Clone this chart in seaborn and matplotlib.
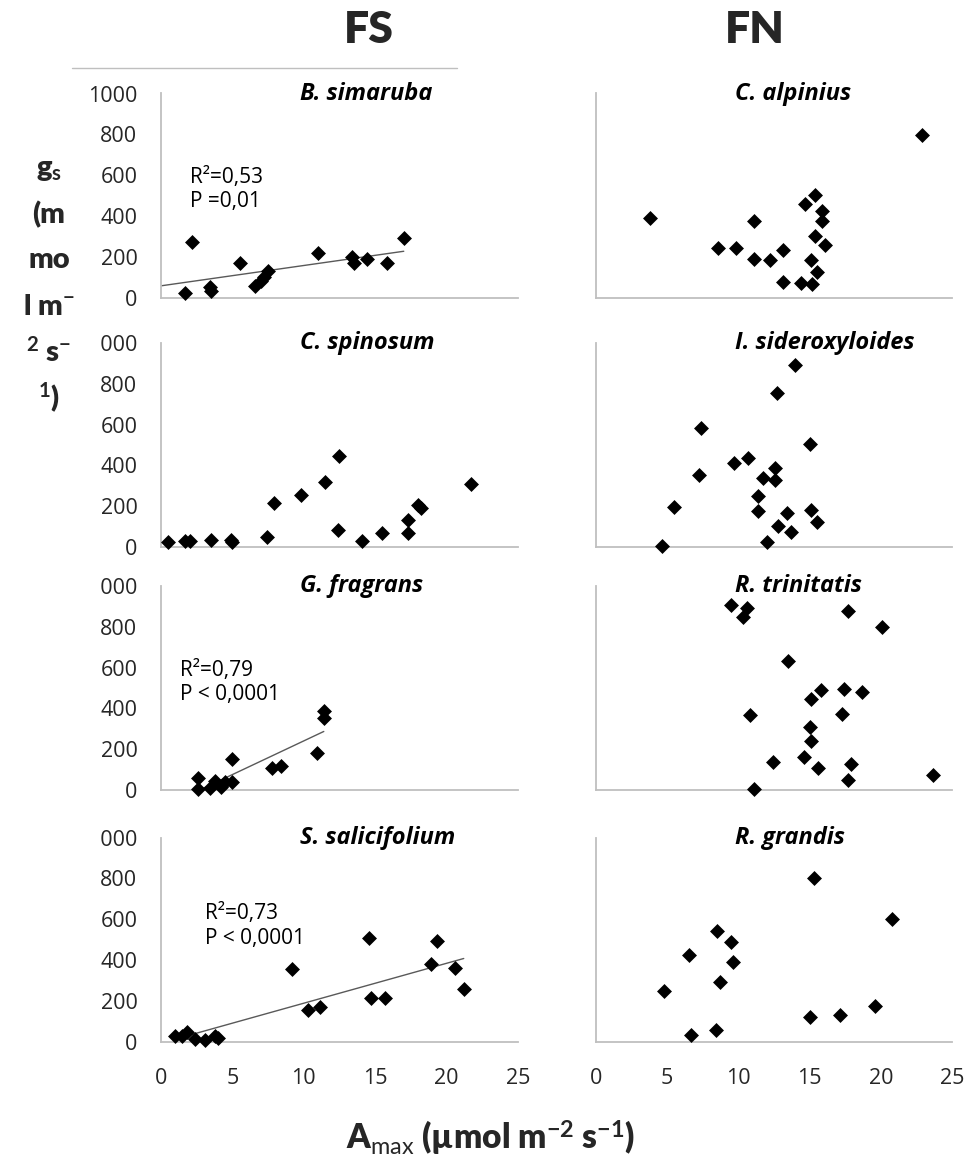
import numpy as np
import pandas as pd
import matplotlib.pyplot as plt
from matplotlib.lines import Line2D
from matplotlib.transforms import Bbox, TransformedBbox
import seaborn as sns

# 値は図から読み取ったもの (Amax, gs)
fs_species = ["B. simaruba", "C. spinosum", "G. fragrans", "S. salicifolium"]
fn_species = ["C. alpinius", "I. sideroxyloides", "R. trinitatis", "R. grandis"]

bsim_amax = [1.7, 2.2, 3.4, 3.5, 5.5, 6.6, 7.0, 7.2, 7.5, 11.0, 13.4, 13.5, 14.4, 15.8, 17.0]
bsim_gs = [20, 270, 50, 30, 170, 57, 80, 100, 130, 220, 200, 171, 188, 171, 294]

cspi_amax = [0.5, 1.7, 2.0, 3.5, 4.9, 5.0, 7.4, 7.9, 9.8, 11.5, 12.4, 12.5, 14.1, 15.5, 17.3, 17.3, 18.0, 18.2, 21.7]
cspi_gs = [26, 29, 29, 33, 34, 24, 49, 214, 253, 321, 83, 445, 29, 70, 130, 70, 206, 190, 307]

gfra_amax = [2.6, 2.6, 3.4, 3.8, 4.2, 4.5, 5.0, 5.0, 7.8, 8.4, 10.9, 11.4, 11.4]
gfra_gs = [60, 5, 11, 44, 16, 39, 150, 39, 109, 117, 182, 386, 353]

ssal_amax = [1.0, 1.5, 1.8, 2.4, 3.1, 3.8, 4.0, 9.2, 10.3, 11.1, 14.6, 14.7, 15.7, 18.9, 19.3, 20.6, 21.2]
ssal_gs = [25, 28, 49, 11, 8, 25, 16, 355, 154, 167, 505, 212, 212, 379, 493, 358, 257]

calp_amax = [3.8, 8.6, 9.8, 11.1, 11.1, 12.2, 13.1, 13.1, 14.4, 14.7, 15.1, 15.2, 15.4, 15.4, 15.5, 15.9, 15.9, 16.1, 22.9]
calp_gs = [390, 245, 243, 375, 190, 185, 235, 78, 72, 457, 186, 65, 502, 301, 127, 423, 374, 255, 796]

isid_amax = [4.6, 5.5, 7.2, 7.4, 9.7, 10.7, 11.4, 11.4, 11.7, 12.0, 12.6, 12.6, 12.7, 12.8, 13.4, 13.7, 14.0, 15.0, 15.1, 15.5]
isid_gs = [5, 198, 353, 585, 413, 438, 250, 176, 340, 26, 389, 327, 757, 105, 165, 74, 894, 503, 181, 124]

rtri_amax = [9.5, 10.3, 10.6, 10.8, 11.1, 12.4, 13.5, 14.6, 15.0, 15.1, 15.1, 15.6, 15.8, 17.3, 17.4, 17.7, 17.7, 17.9, 18.7, 20.1, 23.7]
rtri_gs = [909, 846, 890, 367, 5, 139, 634, 164, 311, 445, 241, 110, 491, 372, 494, 49, 879, 129, 481, 797, 74]

rgra_amax = [4.8, 6.5, 6.7, 8.5, 8.4, 8.7, 9.5, 9.6, 15.0, 15.3, 17.1, 19.6, 20.8]
rgra_gs = [247, 422, 33, 544, 54, 294, 490, 389, 119, 802, 132, 173, 601]

fs_amax = [bsim_amax, cspi_amax, gfra_amax, ssal_amax]
fs_gs = [bsim_gs, cspi_gs, gfra_gs, ssal_gs]
fn_amax = [calp_amax, isid_amax, rtri_amax, rgra_amax]
fn_gs = [calp_gs, isid_gs, rtri_gs, rgra_gs]

# 回帰直線の有無と統計値
fs_fit = [True, False, True, True]
fs_stats = ["R²=0,53\nP =0,01", None, "R²=0,79\nP < 0,0001", "R²=0,73\nP < 0,0001"]

x_ticks = [0, 5, 10, 15, 20, 25]
y_ticks = [0, 200, 400, 600, 800, 1000]

# スタイル
sns.set_style("white")
plt.rcParams['font.family'] = ['Open Sans', 'DejaVu Sans']
plt.rcParams['mathtext.fontset'] = 'custom'
plt.rcParams['mathtext.rm'] = 'Lato'
plt.rcParams['mathtext.bf'] = 'Lato:bold'
plt.rcParams['mathtext.it'] = 'Lato:italic'

W, H = 966, 1158
fig = plt.figure(figsize=(W / 100, H / 100), dpi=100)
fig.patch.set_facecolor('white')

axis_col = '#bfbfbf'
text_col = '#262626'
col_left = [161, 596]
col_width = [357, 356]
row_zero = [297.5, 547, 790, 1041.5]
row_h = 204
stat_pos = [(0.081, 530), None, (0.053, 528), (0.123, 566)]


def make_panel(col, row, name, xs, ys, fit=False, stat=None, spos=None):
    ax = fig.add_axes([col_left[col] / W, (H - row_zero[row]) / H,
                       col_width[col] / W, row_h / H])
    df = pd.DataFrame({'Amax': xs, 'gs': ys})
    sns.scatterplot(data=df, x='Amax', y='gs', ax=ax, marker='D', s=58,
                    color='black', edgecolor='black', linewidth=0,
                    clip_on=False, zorder=3)
    if fit:
        b, a = np.polyfit(df['Amax'], df['gs'], 1)
        # B. simaruba は 0 まで延長されている
        x0 = 0.0 if name == "B. simaruba" else df['Amax'].min()
        fx = np.linspace(x0, df['Amax'].max(), 50)
        sns.lineplot(x=fx, y=a + b * fx, ax=ax, color='#595959', lw=1.0, zorder=2)
    if stat:
        ax.text(spos[0], spos[1], stat, transform=ax.get_yaxis_transform(),
                ha='left', va='center', fontsize=15, color='black', linespacing=1.2)
    ax.text(0.39, 1000, name, transform=ax.get_yaxis_transform(), ha='left',
            va='center', fontsize=17, fontweight='bold', fontstyle='italic',
            color='black', clip_on=False)

    ax.set_xlim(0, 25)
    ax.set_ylim(0, 1000)
    ax.set_xticks(x_ticks)
    ax.set_yticks(y_ticks)
    ax.set_xlabel('')
    ax.set_ylabel('')
    sns.despine(ax=ax)
    for sp in ['left', 'bottom']:
        ax.spines[sp].set_color(axis_col)
        ax.spines[sp].set_linewidth(1.3)
    ax.tick_params(axis='x', direction='in', length=6, width=1.3, color=axis_col,
                   labelsize=15.5, labelcolor=text_col, pad=19,
                   labelbottom=(row == 3))
    ax.tick_params(axis='y', direction='out', length=6.5, width=1.3, color=axis_col,
                   labelsize=15.5, labelcolor=text_col, pad=10.5,
                   labelleft=(col == 0))
    # 左端で切れている "1000"
    if col == 0 and row > 0:
        lab = ax.get_yticklabels()[-1]
        lab.set_clip_box(TransformedBbox(Bbox([[99 / W, 0], [1, 1]]), fig.transFigure))
        lab.set_clip_on(True)
    return ax


for i in range(4):
    make_panel(0, i, fs_species[i], fs_amax[i], fs_gs[i], fs_fit[i], fs_stats[i], stat_pos[i])
    make_panel(1, i, fn_species[i], fn_amax[i], fn_gs[i])

# 列見出し
word_font = ['Lato', 'DejaVu Sans']
fig.text(369 / W, 1 - 30 / H, "FS", ha='center', va='center', fontsize=32,
         fontweight='heavy', family=word_font)
fig.text(755 / W, 1 - 30 / H, "FN", ha='center', va='center', fontsize=32,
         fontweight='heavy', family=word_font)
fig.add_artist(Line2D([72 / W, 457 / W], [1 - 68 / H, 1 - 68 / H], color=axis_col, lw=1.0))

# 縦軸ラベル (細いテキストボックスで折り返された形)
ylab_lines = [r"g$_{\mathbf{s}}$", "(m", "mo", r"l m$^{\mathbf{-}}$",
              r"$^{\mathbf{2}}$ s$^{\mathbf{-}}$", r"$^{\mathbf{1}}$)"]
ylab_y = [170, 215, 260, 307, 352, 398]
for t, yy in zip(ylab_lines, ylab_y):
    fig.text(49 / W, 1 - yy / H, t, ha='center', va='center', fontsize=21,
             fontweight='heavy', family=word_font)

# 横軸ラベル
fig.text(491 / W, 1 - 1150 / H, r"A$_{\mathrm{max}}$ (µmol m$^{\mathbf{-2}}$ s$^{\mathbf{-1}}$)",
         ha='center', va='baseline', fontsize=24, fontweight='heavy', family=word_font)

plt.savefig('out.png', dpi=100)
